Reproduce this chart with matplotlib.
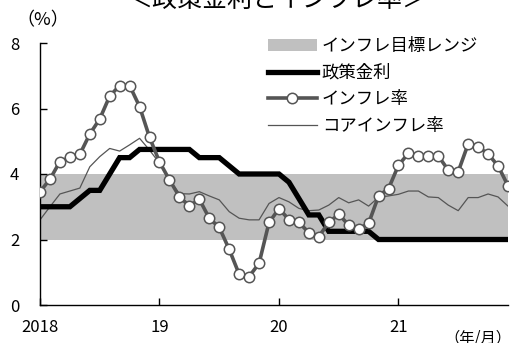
import numpy as np
import matplotlib
matplotlib.use('Agg')
import matplotlib.pyplot as plt
from matplotlib.patches import Patch
from matplotlib.lines import Line2D

plt.rcParams['font.family'] = ['Noto Sans CJK JP', 'DejaVu Sans']

# monthly data, Jan 2018 - Dec 2021
policy_rate = [3.0, 3.0, 3.0, 3.0, 3.25, 3.5, 3.5, 4.0, 4.5, 4.5, 4.75, 4.75,
               4.75, 4.75, 4.75, 4.75, 4.5, 4.5, 4.5, 4.25, 4.0, 4.0, 4.0, 4.0,
               4.0, 3.75, 3.25, 2.75, 2.75, 2.25, 2.25, 2.25, 2.25, 2.25, 2.0, 2.0,
               2.0, 2.0, 2.0, 2.0, 2.0, 2.0, 2.0, 2.0, 2.0, 2.0, 2.0, 2.0]
inflation = [3.46, 3.84, 4.38, 4.51, 4.60, 5.22, 5.68, 6.38, 6.70, 6.70, 6.06, 5.12,
             4.37, 3.82, 3.31, 3.02, 3.23, 2.65, 2.37, 1.70, 0.94, 0.87, 1.27, 2.52,
             2.94, 2.61, 2.52, 2.21, 2.09, 2.52, 2.77, 2.44, 2.32, 2.49, 3.33, 3.55,
             4.27, 4.63, 4.56, 4.56, 4.55, 4.12, 4.07, 4.92, 4.83, 4.61, 4.25, 3.64]
core_inflation = [2.60, 3.00, 3.39, 3.48, 3.57, 4.22, 4.53, 4.78, 4.70, 4.89, 5.09, 4.73,
                  4.33, 3.80, 3.40, 3.39, 3.46, 3.33, 3.21, 2.85, 2.65, 2.60, 2.60, 3.10,
                  3.28, 3.15, 2.95, 2.88, 2.90, 3.05, 3.28, 3.12, 3.21, 3.02, 3.29, 3.33,
                  3.38, 3.48, 3.48, 3.30, 3.28, 3.05, 2.88, 3.28, 3.28, 3.39, 3.30, 3.02]
target_range = (2, 4)
year_ticks = [0, 12, 24, 36]
year_labels = ['2018', '19', '20', '21']

months = np.arange(len(inflation))

fig = plt.figure(figsize=(5.14, 3.43), dpi=100)
ax = fig.add_axes([40/514, 38/343, 468/514, 262/343])

band_color = '#c0c0c0'
ax.axhspan(target_range[0], target_range[1], color=band_color, lw=0, zorder=1)
ax.plot(months, core_inflation, color='#555555', lw=0.9, zorder=2)
ax.plot(months, policy_rate, color='black', lw=3.8, zorder=3, solid_joinstyle='miter')
ax.plot(months, inflation, color='#555555', lw=2.6, marker='o', ms=7.5,
        mfc='white', mec='#555555', mew=1.1, zorder=4)

ax.set_xlim(0, 47)
ax.set_ylim(0, 8)
ax.set_xticks(year_ticks)
ax.set_xticklabels(year_labels)
ax.set_yticks([0, 2, 4, 6, 8])
ax.tick_params(direction='in', length=5, width=1, labelsize=12, colors='black')
ax.tick_params(axis='x', pad=10)
ax.tick_params(axis='y', pad=15)
for s in ['top', 'right']:
    ax.spines[s].set_visible(False)
for s in ['left', 'bottom']:
    ax.spines[s].set_linewidth(1.0)

handles = [Patch(color=band_color, lw=0),
           Line2D([], [], color='black', lw=3.8),
           Line2D([], [], color='#555555', lw=2.6, marker='o', ms=7.5,
                  mfc='white', mec='#555555', mew=1.1),
           Line2D([], [], color='#555555', lw=0.9)]
labels = ['インフレ目標レンジ', '政策金利', 'インフレ率', 'コアインフレ率']
fig.legend(handles, labels, loc='upper left', bbox_to_anchor=(268/514, 1 - 37/343),
           frameon=False, fontsize=12.5, handlelength=2.8, handletextpad=0.3,
           labelspacing=0.5, borderpad=0, borderaxespad=0)

fig.text(277/514, 1.0, '＜政策金利とインフレ率＞', fontsize=18, ha='center', va='center')
fig.text(43/514, 1 - 20/343, '（%）', fontsize=13, ha='center', va='center')
fig.text(478/514, 1 - 338/343, '（年/月）', fontsize=11, ha='center', va='center')

fig.savefig('out.png', dpi=100)
